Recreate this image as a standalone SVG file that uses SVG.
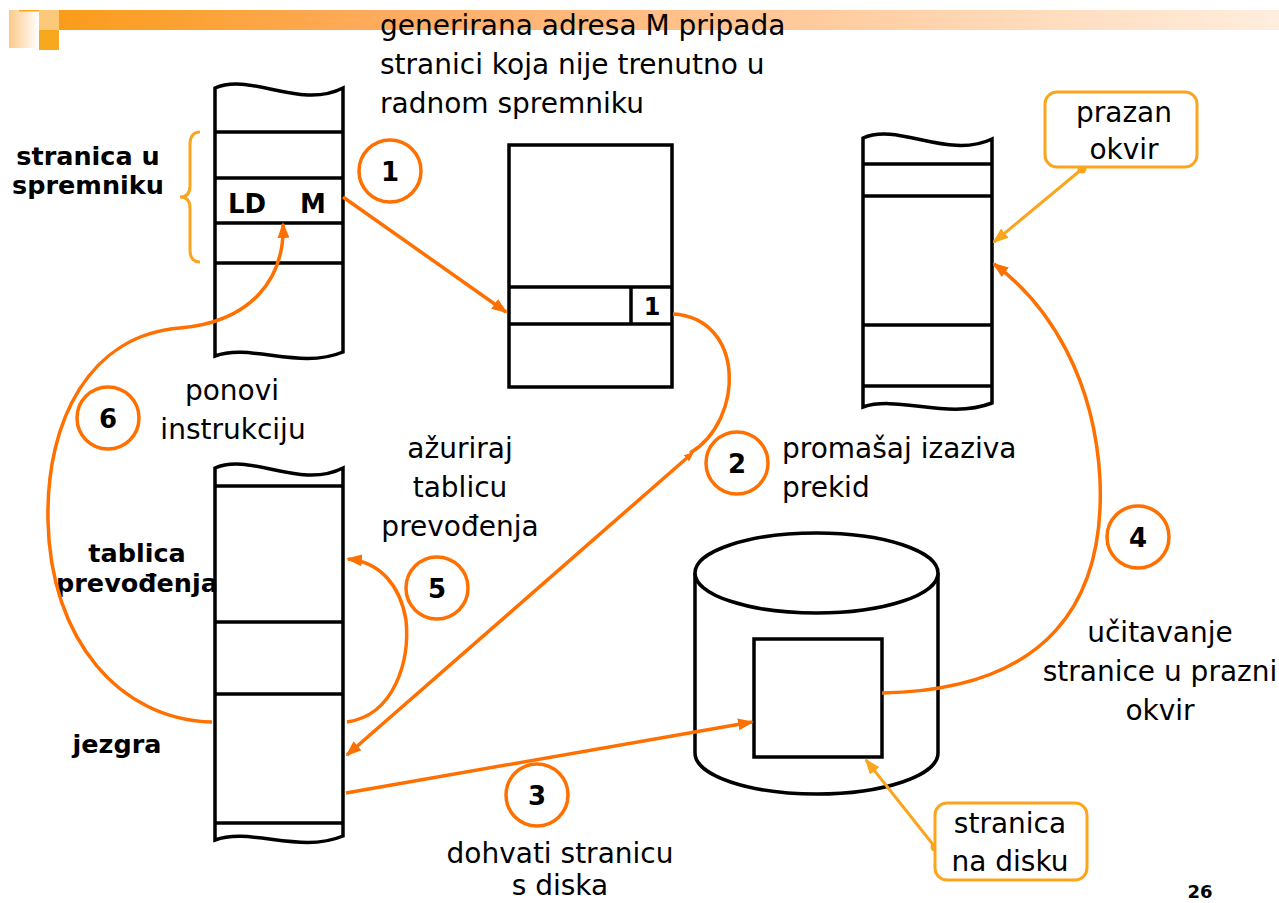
<svg xmlns="http://www.w3.org/2000/svg" width="1279" height="903" viewBox="0 0 1279 903">
<defs>
<linearGradient id="bar" x1="0" y1="0" x2="1" y2="0"><stop offset="0" stop-color="#fa9c1a"/><stop offset="0.3" stop-color="#ffad66"/><stop offset="1" stop-color="#ffeede"/></linearGradient>
<linearGradient id="sq" x1="0" y1="0" x2="1" y2="0"><stop offset="0" stop-color="#fdc987"/><stop offset="1" stop-color="#ffffff"/></linearGradient>
<marker id="ao" markerUnits="userSpaceOnUse" markerWidth="16" markerHeight="12" refX="14" refY="6" orient="auto"><path d="M0,0 L16,6 L0,12 Z" fill="#ff7000"/></marker>
<marker id="aos" markerUnits="userSpaceOnUse" markerWidth="10" markerHeight="8" refX="2" refY="4" orient="auto-start-reverse"><path d="M0,0 L10,4 L0,8 Z" fill="#ff7000"/></marker>
<marker id="aa" markerUnits="userSpaceOnUse" markerWidth="16" markerHeight="12" refX="14" refY="6" orient="auto"><path d="M0,0 L16,6 L0,12 Z" fill="#fba51f"/></marker>
</defs>
<style>
.col{fill:#fff;stroke:#000;stroke-width:3.5}
.ln{stroke:#000;stroke-width:3.5}
.t{font-family:"DejaVu Sans",Verdana,sans-serif;font-size:28px;fill:#000}
.b{font-family:"DejaVu Sans",Verdana,sans-serif;font-size:25.5px;font-weight:bold;fill:#000}
.c{fill:#fff;stroke:#ff7000;stroke-width:3.5}
.n{font-family:"DejaVu Sans",Verdana,sans-serif;font-size:26px;font-weight:bold;fill:#000;text-anchor:middle}
.con{fill:none;stroke:#ff7000;stroke-width:3.5}
.am{fill:none;stroke:#fba51f;stroke-width:3}
.mid{text-anchor:middle}
</style>
<rect width="1279" height="903" fill="#fff"/>
<g id="header">
<rect x="59" y="10" width="1220" height="20" fill="url(#bar)"/>
<rect x="9" y="10" width="30" height="38" fill="url(#sq)"/>
<rect x="19" y="10" width="20" height="1.5" fill="#fba51f"/>
<rect x="39" y="10" width="20" height="20" fill="#fcc97b"/>
<rect x="39" y="30" width="20" height="20" fill="#f8a81c"/>
</g>
<g id="memory-top">
<path class="col" d="M215,88 C250,72 300,110 343,88 L343,352 C300,370 250,343 215,356 Z"/>
<line class="ln" x1="215" y1="132" x2="343" y2="132"/>
<line class="ln" x1="215" y1="178" x2="343" y2="178"/>
<line class="ln" x1="215" y1="223" x2="343" y2="223"/>
<line class="ln" x1="215" y1="263" x2="343" y2="263"/>
<text class="b mid" x="247" y="213" style="font-size:26px">LD</text>
<text class="b mid" x="313" y="213" style="font-size:26px">M</text>
</g>
<g id="brace">
<path d="M200,132 Q190,132 190,145 L190,186 Q190,197 180,197 Q190,197 190,208 L190,250 Q190,262 200,262" fill="none" stroke="#fba51f" stroke-width="3"/>
<text class="b mid" x="88" y="165">stranica u</text>
<text class="b mid" x="88" y="194">spremniku</text>
</g>
<g id="page-table">
<rect class="col" x="509" y="145" width="163" height="242"/>
<line class="ln" x1="509" y1="287" x2="672" y2="287"/>
<line class="ln" x1="509" y1="324" x2="672" y2="324"/>
<line class="ln" x1="631" y1="287" x2="631" y2="324"/>
<text class="n" x="652" y="315" style="font-size:24px">1</text>
</g>
<g id="memory-right">
<path class="col" d="M863,138 C898,122 948,160 992,139 L992,403 C948,420 898,395 863,407 Z"/>
<line class="ln" x1="863" y1="164" x2="992" y2="164"/>
<line class="ln" x1="863" y1="196" x2="992" y2="196"/>
<line class="ln" x1="863" y1="325" x2="992" y2="325"/>
<line class="ln" x1="863" y1="386" x2="992" y2="386"/>
</g>
<g id="memory-bottom">
<path class="col" d="M215,468 C250,452 300,490 343,468 L343,836 C300,854 250,827 215,840 Z"/>
<line class="ln" x1="215" y1="486" x2="343" y2="486"/>
<line class="ln" x1="215" y1="622" x2="343" y2="622"/>
<line class="ln" x1="215" y1="694" x2="343" y2="694"/>
<line class="ln" x1="215" y1="823" x2="343" y2="823"/>
<text class="b mid" x="137" y="562">tablica</text>
<text class="b mid" x="137" y="592">prevođenja</text>
<text class="b mid" x="117" y="753">jezgra</text>
</g>
<g id="disk">
<path class="col" d="M695,573 L695,753 A121.5,41 0 0 0 938,753 L938,573"/>
<ellipse class="col" cx="816.5" cy="573" rx="121.5" ry="40"/>
<rect class="col" x="754" y="639" width="128" height="118"/>
</g>
<g id="connectors">
<path class="con" d="M343,197 L506,312" marker-end="url(#ao)"/>
<path class="con" d="M673,314 C745,318 745,420 690,453"/>
<path class="con" d="M688,457 L347,755" marker-end="url(#ao)" marker-start="url(#aos)"/>
<path class="con" d="M346,793 L752,722" marker-end="url(#ao)"/>
<path class="con" d="M882,693 C1050,690 1105,600 1100,480 C1095,380 1050,305 994,264" marker-end="url(#ao)"/>
<path class="con" d="M347,722 C395,715 410,660 406,620 C400,585 380,562 348,559" marker-end="url(#ao)"/>
<path class="con" d="M212,722 C120,720 50,640 48,520 C46,420 90,335 180,328 C250,322 285,280 283,224" marker-end="url(#ao)"/>
<path class="am" d="M1082,169 L994,242" marker-end="url(#aa)"/>
<path class="am" d="M935,847 L866,760" marker-end="url(#aa)"/>
<circle cx="1082" cy="169" r="4.5" fill="#fba51f"/>
<circle cx="935" cy="847" r="4.5" fill="#fba51f"/>
</g>
<g id="callout-prazan">
<rect x="1045" y="92" width="152" height="75" rx="12" fill="#fff" stroke="#fba51f" stroke-width="3"/>
<text class="t mid" x="1124" y="122">prazan</text>
<text class="t mid" x="1124" y="159">okvir</text>
</g>
<g id="callout-disk">
<rect x="935" y="803" width="152" height="77" rx="12" fill="#fff" stroke="#fba51f" stroke-width="3"/>
<text class="t mid" x="1010" y="833">stranica</text>
<text class="t mid" x="1010" y="871">na disku</text>
</g>
<g id="steps">
<circle class="c" cx="390" cy="171" r="31"/><text class="n" x="390" y="181">1</text>
<circle class="c" cx="737" cy="463" r="31"/><text class="n" x="737" y="473">2</text>
<circle class="c" cx="537" cy="795" r="31"/><text class="n" x="537" y="805">3</text>
<circle class="c" cx="1138" cy="537" r="31"/><text class="n" x="1138" y="547">4</text>
<circle class="c" cx="437" cy="588" r="31"/><text class="n" x="437" y="598">5</text>
<circle class="c" cx="108" cy="418" r="31"/><text class="n" x="108" y="428">6</text>
</g>
<g id="labels">
<text class="t" x="380" y="35">generirana adresa M pripada</text>
<text class="t" x="380" y="74">stranici koja nije trenutno u</text>
<text class="t" x="380" y="113">radnom spremniku</text>
<text class="t mid" x="232" y="400">ponovi</text>
<text class="t mid" x="233" y="439">instrukciju</text>
<text class="t mid" x="460" y="458">ažuriraj</text>
<text class="t mid" x="460" y="497">tablicu</text>
<text class="t mid" x="460" y="536">prevođenja</text>
<text class="t" x="782" y="458">promašaj izaziva</text>
<text class="t" x="782" y="497">prekid</text>
<text class="t mid" x="1160" y="642">učitavanje</text>
<text class="t mid" x="1160" y="681">stranice u prazni</text>
<text class="t mid" x="1160" y="720">okvir</text>
<text class="t mid" x="560" y="863">dohvati stranicu</text>
<text class="t mid" x="560" y="895">s diska</text>
<text class="n" x="1200" y="898" style="font-size:18px">26</text>
</g>
</svg>
